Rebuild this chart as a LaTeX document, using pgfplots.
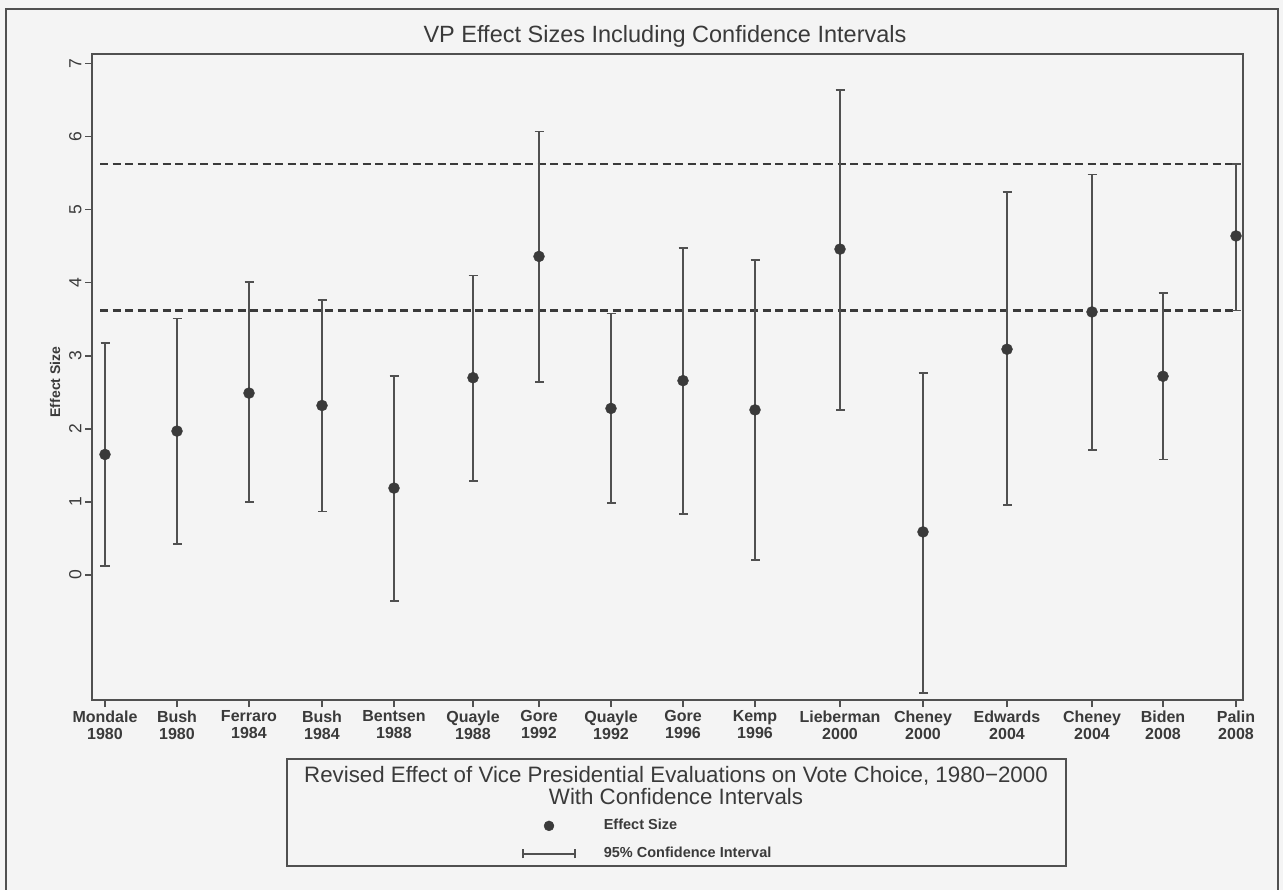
\documentclass[border=0pt]{standalone}
\usepackage{pgfplots}
\usepackage{pgfplotstable}
\pgfplotsset{compat=1.18}
\usepackage{fontspec}
\setmainfont{Liberation Sans}
\definecolor{ink}{HTML}{3A3A3A}
\definecolor{barc}{HTML}{505050}
\definecolor{paper}{HTML}{F4F4F4}

\pgfplotstableread{
x y lo hi
105 1.65 0.12 3.18
177 1.97 0.42 3.51
249 2.49 1.00 4.01
322 2.32 0.87 3.76
394 1.19 -0.36 2.72
473 2.70 1.29 4.10
539 4.36 2.64 6.07
611 2.28 0.99 3.58
683 2.66 0.84 4.48
755 2.26 0.21 4.31
840 4.46 2.26 6.64
923 0.59 -1.61 2.77
1007 3.09 0.96 5.24
1092 3.60 1.71 5.48
1163 2.72 1.58 3.86
1236 4.64 3.62 5.62
}\vpdata

\begin{document}
\begin{tikzpicture}[x=1pt,y=1pt]
\fill[paper] (0,0) rectangle (1283,-890);
\useasboundingbox (0,0) rectangle (1283,-890);
\draw[barc, line width=1.6pt] (6,-891) -- (6,-9) -- (1278,-9) -- (1278,-891);
\node[font=\fontsize{23.5}{27}\selectfont, text=ink] at (665,-36) {VP Effect Sizes Including Confidence Intervals};
\node[rotate=90, font=\bfseries\fontsize{14}{16}\selectfont, text=ink] at (55,-382) {Effect Size};
\draw[barc, line width=1.6pt] (287,-759) rectangle (1066,-866);
\node[font=\fontsize{22.3}{22}\selectfont, text=ink, align=center] at (676,-786) {Revised Effect of Vice Presidential Evaluations on Vote Choice, 1980−2000\\With Confidence Intervals};
\begin{axis}[
  at={(92pt,-700pt)}, anchor=south west,
  scale only axis, width=1151pt, height=646pt,
  xmin=92, xmax=1243, ymin=-1.71, ymax=7.13,
  clip=false,
  axis line style={barc, line width=1.8pt},
  tick style={barc, line width=1.5pt},
  tick align=outside, major tick length=7pt, tick pos=left,
  xtick={105,177,249,322,394,473,539,611,683,755,840,923,1007,1092,1163,1236},
  xticklabels={{Mondale\\1980},{Bush\\1980},{Ferraro\\1984},{Bush\\1984},{Bentsen\\1988},{Quayle\\1988},{Gore\\1992},{Quayle\\1992},{Gore\\1996},{Kemp\\1996},{Lieberman\\2000},{Cheney\\2000},{Edwards\\2004},{Cheney\\2004},{Biden\\2008},{Palin\\2008}},
  xticklabel style={align=center, font=\bfseries\fontsize{16}{17}\selectfont, text=ink},
  ytick={0,1,2,3,4,5,6,7},
  yticklabel style={rotate=90, anchor=south, font=\fontsize{17.5}{18}\selectfont, text=ink},
  /pgf/number format/assume math mode=true,
  legend style={at={(axis description cs:0.3736,-0.1837)}, anchor=north west, draw=none, fill=none,
    inner sep=0pt, row sep=14pt, legend cell align=left,
    nodes={inner sep=0pt, font=\bfseries\fontsize{14.5}{16}\selectfont, text=ink, text height=11pt, text depth=3pt},
    /tikz/every odd column/.append style={column sep=28pt}},
]
\addlegendimage{legend image code/.code={\path[draw=none, fill=none] (0pt,-4pt) rectangle (52pt,4pt); \fill[ink] (26pt,0pt) circle (5pt);}}
\addlegendentry{Effect Size}
\addlegendimage{legend image code/.code={\draw[barc, line width=1.6pt] (0pt,0pt) -- (52pt,0pt) (0pt,-4.5pt) -- (0pt,4.5pt) (52pt,-4.5pt) -- (52pt,4.5pt);}}
\addlegendentry{95\% Confidence Interval}
\addplot[forget plot, color=ink, line width=2.2pt, dash pattern=on 8pt off 4.5pt] coordinates {(100,5.62) (1237,5.62)};
\addplot[forget plot, color=ink, line width=2.2pt, dash pattern=on 8pt off 4.5pt] coordinates {(100,3.62) (1237,3.62)};
\addplot[forget plot, only marks, mark=*, mark size=5.5pt, mark options={fill=ink, draw=ink},
  error bars/.cd, y dir=both, y explicit,
  error bar style={barc, line width=2pt},
  error mark options={rotate=90, barc, line width=1.8pt, mark size=4.5pt}]
  table[x=x, y=y, y error plus expr=\thisrow{hi}-\thisrow{y}, y error minus expr=\thisrow{y}-\thisrow{lo}] {\vpdata};
\end{axis}
\end{tikzpicture}
\end{document}
